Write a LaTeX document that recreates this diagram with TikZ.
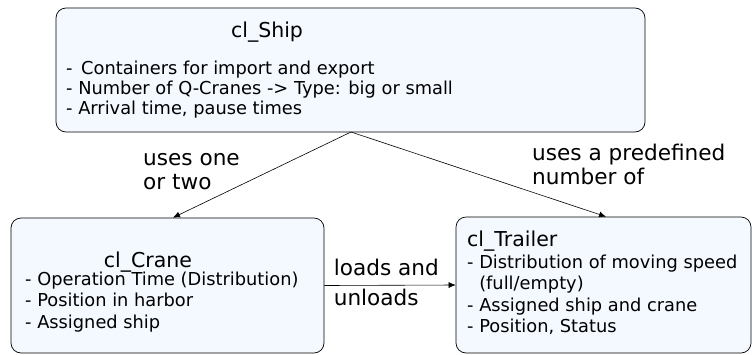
\documentclass[tikz,border=0pt]{standalone}
\usepackage{fontspec}
\setmainfont{DejaVu Sans}
\usetikzlibrary{arrows.meta, positioning}
\definecolor{boxfill}{RGB}{244,249,255}

\begin{document}
\begin{tikzpicture}[x=1pt, y=-1pt,
    classbox/.style={draw, rounded corners=10pt, fill=boxfill, line width=0.7pt,
        inner sep=0pt},
    title/.style={font=\fontsize{20.5}{24}\selectfont, inner sep=0pt},
    info/.style={font=\fontsize{17.8}{21.5}\selectfont, align=left, inner sep=0pt},
    lbl/.style={font=\fontsize{21.6}{24}\selectfont, align=left, inner sep=0pt},
    uses/.style={-{Latex[length=7pt,width=6pt]}, line width=0.6pt}]
    \useasboundingbox (0,0) rectangle (752,354);

    % classes
    \node[classbox, minimum width=589pt, minimum height=124pt] (ship) at (350.5,70) {};
    \node[classbox, minimum width=313pt, minimum height=135pt] (crane) at (167.5,285.5) {};
    \node[classbox, minimum width=295pt, minimum height=136pt] (trailer) at (603.5,285) {};

    \node[title, anchor=base] (shiptitle) at (267,37) {cl\_Ship};
    \node[info, font=\fontsize{17.8}{20}\selectfont, anchor=north west] (shipinfo) at (66,60.5)
        {-\, Containers for import and export\\
         - Number of Q-Cranes -> Type: big or small\\
         - Arrival time, pause times};

    \node[title, anchor=base] (cranetitle) at (148,267) {cl\_Crane};
    \node[info, anchor=north west] (craneinfo) at (25,271.5)
        {- Operation Time (Distribution)\\
         - Position in harbor\\
         - Assigned ship};

    \node[title, anchor=base west] (trailertitle) at (467,246) {cl\_Trailer};
    \node[info, anchor=north west] (trailerinfo) at (467,254.5)
        {- Distribution of moving speed\\
         \phantom{-} (full/empty)\\
         - Assigned ship and crane\\
         - Position, Status};

    % relations
    \coordinate (src) at (351,132);
    \draw[uses] (src) -- (crane.north -| 173,0);
    \draw[uses] (src) -- (trailer.north -| 606,0);
    \draw[uses] (crane.east) -- (trailer.west)
        node[lbl, pos=0.07, above right=9pt and 0pt] (loadlbl) {loads and}
        node[lbl, pos=0.07, below right=3.6pt and 0pt] (unloadlbl) {unloads};

    \node[lbl, anchor=north west] (onetwo) at (143,153) {uses one\\or two};
    \node[lbl, anchor=north west] (predef) at (532,143.6) {uses a predefined\\number of};
\end{tikzpicture}
\end{document}
